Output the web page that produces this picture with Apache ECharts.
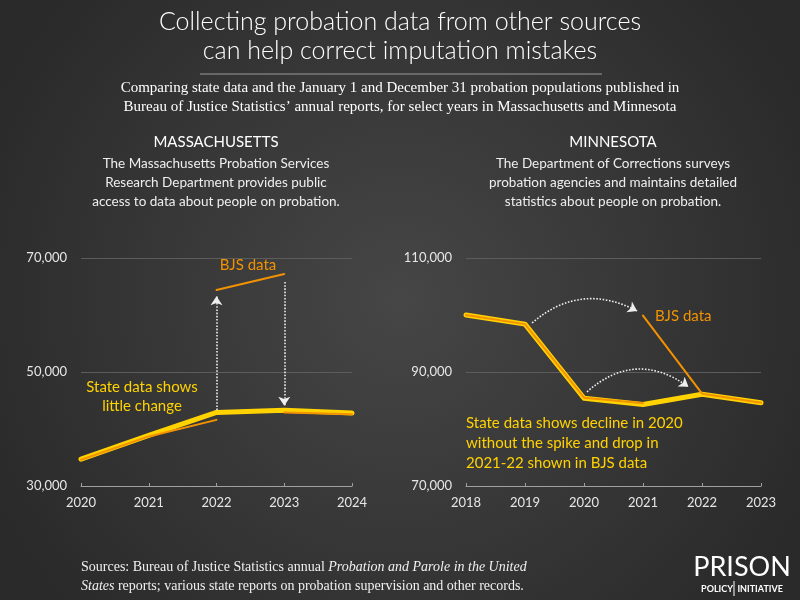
<!DOCTYPE html>
<html><head><meta charset="utf-8">
<script src="https://cdn.jsdelivr.net/npm/echarts@6/dist/echarts.min.js"></script>
<style>html,body{margin:0;padding:0;background:#333;}#c{width:800px;height:600px;}</style>
</head><body><div id="c"></div>
<script>
// ---- Massachusetts ----
const maYears = [2020, 2021, 2022, 2023, 2024];
const maState = [34700, 38900, 42900, 43300, 42800];
const maBjsAYears = [2020, 2021, 2022];
const maBjsA = [34600, 38700, 41600];
const maBjsBYears = [2022, 2023];
const maBjsB = [64400, 67200];
const maBjsCYears = [2023, 2024];
const maBjsC = [42900, 42600];
const maYTicks = [30000, 50000, 70000];
// ---- Minnesota ----
const mnYears = [2018, 2019, 2020, 2021, 2022, 2023];
const mnState = [100000, 98400, 85400, 84300, 86100, 84600];
const mnBjsAYears = [2018, 2019, 2020, 2021];
const mnBjsA = [100000, 98400, 85500, 84500];
const mnBjsBYears = [2021, 2022, 2023];
const mnBjsB = [99900, 86200, 84600];
const mnYTicks = [70000, 90000, 110000];
// annotation arrows (data coordinates)
const maArrowUp = [[2022, 43300], [2022, 63300]];
const maArrowDown = [[2023, 65800], [2023, 44100]];
const mnArrow1 = [[2019.12, 98600], [2020.9, 100700]];
const mnArrow2 = [[2020.05, 86500], [2021.77, 87400]];

const YELLOW = '#FFD200', ORANGE = '#F39200';
const SANS = 'Lato, "Open Sans", sans-serif';
const SERIF = '"Liberation Serif", "DejaVu Serif", serif';

function zip(xs, ys){ return xs.map((x,i)=>[x, ys[i]]); }
const fmt = v => v.toLocaleString('en-US');

const chart = echarts.init(document.getElementById('c'), null, {renderer:'canvas'});

function xAx(idx, min, max){
  return {type:'value', gridIndex: idx, min, max, interval:1,
    axisLine:{show:true, lineStyle:{color:'#a0a0a0', width:1}},
    axisTick:{show:true, inside:true, length:3, lineStyle:{color:'#a0a0a0'}},
    axisLabel:{color:'#e6e6e6', fontFamily:SANS, fontSize:13, margin:10, formatter: v=>String(v)},
    splitLine:{show:false}};
}
function yAx(idx, min, max){
  return {type:'value', gridIndex: idx, min, max, interval:20000,
    axisLine:{show:false}, axisTick:{show:false},
    axisLabel:{color:'#e6e6e6', fontFamily:SANS, fontSize:13, margin:14, formatter: fmt},
    splitLine:{show:true, lineStyle:{color:'#5c5c5c', width:1}}};
}
function lineS(xi, data, color, width, z){
  return {type:'line', xAxisIndex:xi, yAxisIndex:xi, data, showSymbol:false, symbol:'none',
    lineStyle:{color, width, cap:'round', join:'round'}, z, silent:true};
}
function arrowS(xi, coords, curv){
  return {type:'lines', coordinateSystem:'cartesian2d', xAxisIndex:xi, yAxisIndex:xi,
    symbol:['none','arrow'], symbolSize:9, silent:true, z:5,
    lineStyle:{color:'#eeeeee', width:1.6, type:'dotted', curveness:curv, opacity:1},
    data:[{coords}]};
}

const txt = (x, y, text, opts) => ({type:'text', x, y, style: Object.assign({text, fill:'#fff', font:'14px '+SANS, textAlign:'center', textVerticalAlign:'middle'}, opts||{})});

chart.setOption({
  animation:false,
  backgroundColor:{type:'radial', x:0.5, y:0.5, r:0.75, colorStops:[{offset:0,color:'#464646'},{offset:1,color:'#2a2a2a'}]},
  grid:[
    {left:81, top:258, width:271, height:228},
    {left:466, top:258, width:295, height:228}
  ],
  xAxis:[xAx(0, 2020, 2024), xAx(1, 2018, 2023)],
  yAxis:[yAx(0, 30000, 70000), yAx(1, 70000, 110000)],
  series:[
    lineS(0, zip(maYears, maState), YELLOW, 5, 2),
    lineS(0, zip(maBjsAYears, maBjsA), ORANGE, 2, 3),
    lineS(0, zip(maBjsBYears, maBjsB), ORANGE, 2, 3),
    lineS(0, zip(maBjsCYears, maBjsC), ORANGE, 2, 3),
    arrowS(0, maArrowUp, 0),
    arrowS(0, maArrowDown, 0),
    lineS(1, zip(mnYears, mnState), YELLOW, 5, 2),
    lineS(1, zip(mnBjsAYears, mnBjsA), ORANGE, 2, 3),
    lineS(1, zip(mnBjsBYears, mnBjsB), ORANGE, 2, 3),
    arrowS(1, mnArrow1, 0.34),
    arrowS(1, mnArrow2, 0.4)
  ],
  graphic:[
    txt(400, 22, 'Collecting probation data from other sources', {font:'300 25px '+SANS}),
    txt(400, 51, 'can help correct imputation mistakes', {font:'300 25px '+SANS}),
    {type:'line', shape:{x1:200, y1:74, x2:602, y2:74}, style:{stroke:'#9a9a9a', lineWidth:1}},
    txt(400, 88, 'Comparing state data and the January 1 and December 31 probation populations published in', {font:'15px '+SERIF}),
    txt(400, 107, 'Bureau of Justice Statistics\u2019 annual reports, for select years in Massachusetts and Minnesota', {font:'15px '+SERIF}),
    txt(216, 142, 'MASSACHUSETTS', {font:'15px '+SANS}),
    txt(216, 164, 'The Massachusetts Probation Services', {font:'13.5px '+SANS, fill:'#eeeeee'}),
    txt(216, 183, 'Research Department provides public', {font:'13.5px '+SANS, fill:'#eeeeee'}),
    txt(216, 202, 'access to data about people on probation.', {font:'13.5px '+SANS, fill:'#eeeeee'}),
    txt(613, 142, 'MINNESOTA', {font:'15px '+SANS}),
    txt(613, 164, 'The Department of Corrections surveys', {font:'13.5px '+SANS, fill:'#eeeeee'}),
    txt(613, 183, 'probation agencies and maintains detailed', {font:'13.5px '+SANS, fill:'#eeeeee'}),
    txt(613, 202, 'statistics about people on probation.', {font:'13.5px '+SANS, fill:'#eeeeee'}),
    txt(248, 265, 'BJS data', {font:'15px '+SANS, fill:ORANGE}),
    txt(142, 387, 'State data shows', {font:'15px '+SANS, fill:YELLOW}),
    txt(142, 406, 'little change', {font:'15px '+SANS, fill:YELLOW}),
    txt(655, 316, 'BJS data', {font:'15px '+SANS, fill:ORANGE, textAlign:'left'}),
    txt(466, 423, 'State data shows decline in 2020', {font:'15px '+SANS, fill:YELLOW, textAlign:'left'}),
    txt(466, 443, 'without the spike and drop in', {font:'15px '+SANS, fill:YELLOW, textAlign:'left'}),
    txt(466, 463, '2021-22 shown in BJS data', {font:'15px '+SANS, fill:YELLOW, textAlign:'left'}),
    {type:'text', x:81, y:567, style:{text:'Sources: Bureau of Justice Statistics annual {i|Probation and Parole in the United}', font:'14px '+SERIF, fill:'#f0f0f0', textVerticalAlign:'middle', rich:{i:{fontStyle:'italic', fontFamily:SERIF, fontSize:14, fill:'#f0f0f0'}}}},
    {type:'text', x:81, y:586, style:{text:'{i|States} reports; various state reports on probation supervision and other records.', font:'14px '+SERIF, fill:'#f0f0f0', textVerticalAlign:'middle', rich:{i:{fontStyle:'italic', fontFamily:SERIF, fontSize:14, fill:'#f0f0f0'}}}},
    txt(742, 567, 'PRISON', {font:'27px '+SANS, fill:'#ffffff'}),
    txt(742, 589, 'POLICY  INITIATIVE', {font:'bold 9px '+SANS, fill:'#ffffff'}),
    {type:'line', shape:{x1:734, y1:581, x2:734, y2:596}, style:{stroke:'#ffffff', lineWidth:1}}
  ]
});
</script></body></html>
